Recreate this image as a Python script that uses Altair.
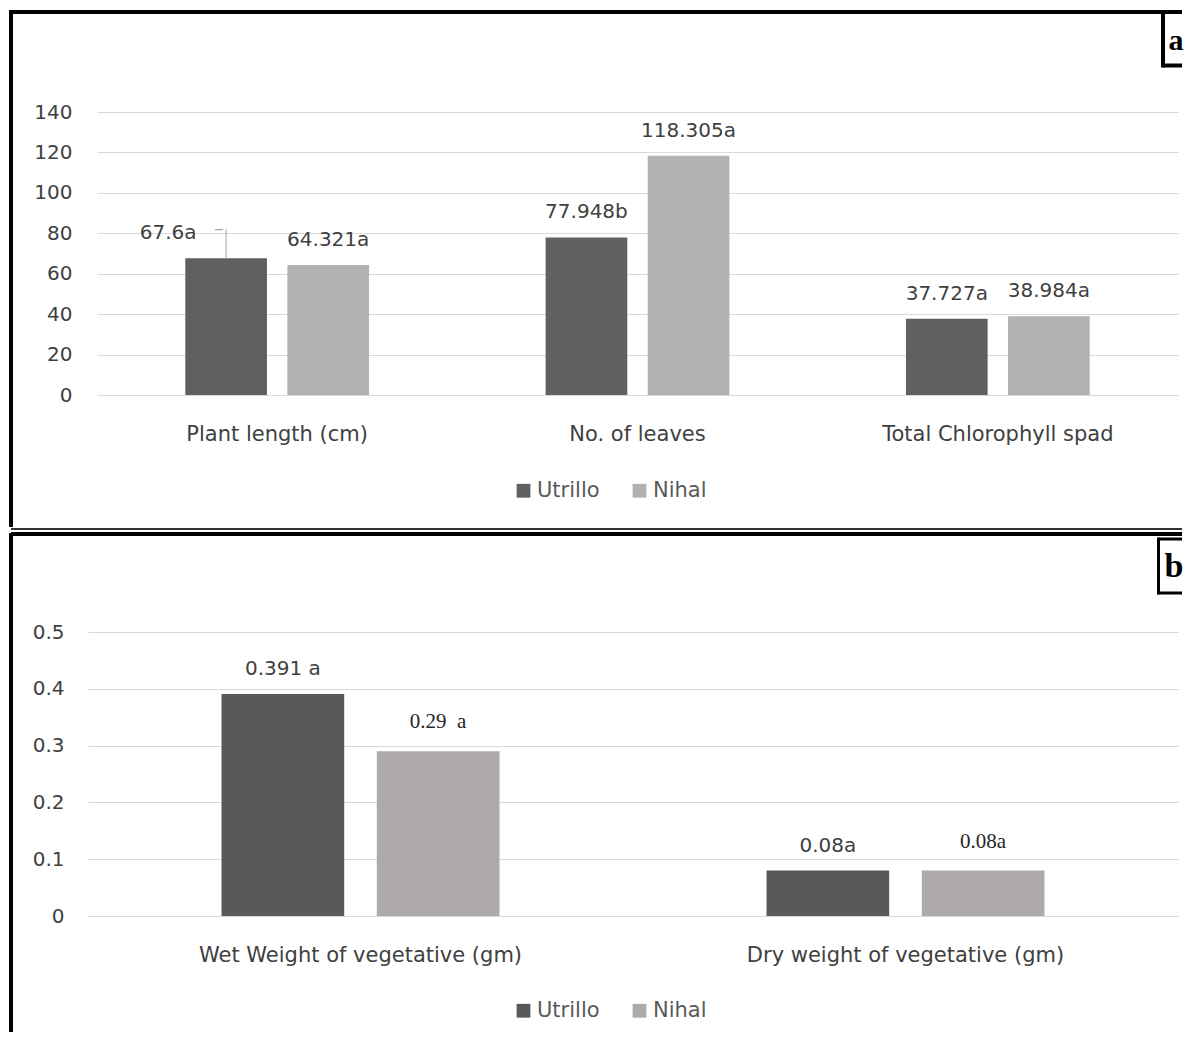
import altair as alt
import pandas as pd

FONT = "DejaVu Sans"
SERIF = "Liberation Serif"

series = ["Utrillo", "Nihal"]

top_categories = ["Plant length (cm)", "No. of leaves", "Total Chlorophyll spad"]
top_utrillo = [67.6, 77.948, 37.727]
top_nihal = [64.321, 118.305, 38.984]
top_utrillo_labels = ["67.6a", "77.948b", "37.727a"]
top_nihal_labels = ["64.321a", "118.305a", "38.984a"]
top_ticks = [0, 20, 40, 60, 80, 100, 120, 140]

bottom_categories = ["Wet Weight of vegetative (gm)", "Dry weight of vegetative (gm)"]
bottom_utrillo = [0.391, 0.08]
bottom_nihal = [0.29, 0.08]
bottom_utrillo_labels = ["0.391 a", "0.08a"]
bottom_nihal_labels = ["0.29 \u00a0a", "0.08a"]
bottom_ticks = [0, 0.1, 0.2, 0.3, 0.4, 0.5]

top_colors = ["#606060", "#b2b2b2"]
bottom_colors = ["#595959", "#aeaaaa"]


def make_df(cats, u, n, ul, nl):
    rows = []
    for c, v, l in zip(cats, u, ul):
        rows.append({"category": c, "series": "Utrillo", "value": v, "label": l})
    for c, v, l in zip(cats, n, nl):
        rows.append({"category": c, "series": "Nihal", "value": v, "label": l})
    return pd.DataFrame(rows)


top_df = make_df(top_categories, top_utrillo, top_nihal, top_utrillo_labels, top_nihal_labels)
bottom_df = make_df(bottom_categories, bottom_utrillo, bottom_nihal, bottom_utrillo_labels, bottom_nihal_labels)

one = pd.DataFrame({"k": [0]})
RIGHT = 1094


def hline(y, x1, x2, w, color="black"):
    return alt.Chart(one).mark_rule(color=color, strokeWidth=w).encode(
        x=alt.value(x1), x2=alt.value(x2), y=alt.value(y))


def vline(x, y1, y2, w, color="black"):
    return alt.Chart(one).mark_rule(color=color, strokeWidth=w).encode(
        x=alt.value(x), y=alt.value(y1), y2=alt.value(y2))


def letter(t, x, y, size):
    return alt.Chart(one).mark_text(text=t, font=SERIF, fontWeight="bold", fontSize=size,
                                    align="center", baseline="middle", color="black").encode(
        x=alt.value(x), y=alt.value(y))


def legend():
    return alt.Legend(orient="none", legendX=425, legendY=368, direction="horizontal", title=None,
                      symbolType="square", symbolSize=190, symbolStrokeWidth=0,
                      labelFont=FONT, labelFontSize=21, labelColor="#595959",
                      labelOffset=3, columnPadding=29, padding=0)


# ---------------- top panel ----------------
x_top = alt.X("category:N", sort=top_categories, title=None,
              scale=alt.Scale(range=[9, 1090], paddingInner=0.49, paddingOuter=0.245),
              axis=alt.Axis(labelAngle=0, labelPadding=28, labelFont=FONT, labelFontSize=21,
                            labelColor="#404040", labelLimit=0, domain=False, ticks=False,
                            grid=False))
xo_top = alt.XOffset("series:N", sort=series, scale=alt.Scale(paddingInner=0.2))
top_y_scale = alt.Scale(domain=[0, 140], nice=False)
top_y_axis = alt.Axis(values=top_ticks, labelPadding=16, grid=True, gridColor="#d9d9d9",
                      gridWidth=1, domain=False, ticks=False, labelFont=FONT,
                      labelFontSize=20, labelColor="#404040")
y_top = alt.Y("value:Q", title=None, scale=top_y_scale, axis=top_y_axis)

top_base = alt.Chart(top_df)
top_bars = top_base.mark_bar().encode(
    x=x_top, xOffset=xo_top, y=y_top,
    color=alt.Color("series:N", sort=series,
                    scale=alt.Scale(domain=series, range=top_colors), legend=legend()))
top_labels = top_base.mark_text(font=FONT, fontSize=20, color="#404040", baseline="middle",
                                dy=-25).encode(
    x=x_top, xOffset=xo_top, y=y_top, text="label:N").transform_filter(alt.datum.label != "67.6a")
top_label_shift = top_base.mark_text(font=FONT, fontSize=20, color="#404040", baseline="middle",
                                     dy=-25, dx=-58).encode(
    x=x_top, xOffset=xo_top, y=y_top, text="label:N").transform_filter(alt.datum.label == "67.6a")
top_leader = top_base.mark_rule(color="#a6a6a6", strokeWidth=1).encode(
    x=x_top, xOffset=xo_top, y=y_top, y2=alt.Y2("lead:Q")).transform_filter(
    alt.datum.label == "67.6a").transform_calculate(lead="datum.value + 14.5")
top_leader_dash = top_base.mark_text(text="\u2013", font=FONT, fontSize=20, color="#a6a6a6",
                                     baseline="middle", dx=-7).encode(
    x=x_top, xOffset=xo_top,
    y=alt.Y("lead:Q", title=None, scale=top_y_scale, axis=top_y_axis)).transform_filter(
    alt.datum.label == "67.6a").transform_calculate(lead="datum.value + 14.5")

top_chart = alt.layer(
    top_bars, top_labels, top_label_shift, top_leader, top_leader_dash,
    vline(-77, -102, 415, 4),
    hline(-100, -77, RIGHT, 4),
    hline(417, -77, RIGHT, 2, "#333333"),
    vline(1075, -100, -44.5, 4),
    hline(-46.5, 1075, RIGHT, 4),
    letter("a", 1088, -71, 30),
).properties(width=1090, height=283)

# ---------------- bottom panel ----------------
x_bot = alt.X("category:N", sort=bottom_categories, title=None,
              scale=alt.Scale(range=[0, 1090], paddingInner=0.49, paddingOuter=0.245),
              axis=alt.Axis(labelAngle=0, labelPadding=28, labelFont=FONT, labelFontSize=21,
                            labelColor="#404040", labelLimit=0, domain=False, ticks=False,
                            grid=False))
xo_bot = alt.XOffset("series:N", sort=series, scale=alt.Scale(paddingInner=0.21))
y_bot = alt.Y("value:Q", title=None, scale=alt.Scale(domain=[0, 0.5], nice=False),
              axis=alt.Axis(values=bottom_ticks, format="~g", labelPadding=24, grid=True,
                            gridColor="#d9d9d9", gridWidth=1, domain=False, ticks=False,
                            labelFont=FONT, labelFontSize=20, labelColor="#404040"))

bot_base = alt.Chart(bottom_df)
bot_bars = bot_base.mark_bar().encode(
    x=x_bot, xOffset=xo_bot, y=y_bot,
    color=alt.Color("series:N", sort=series,
                    scale=alt.Scale(domain=series, range=bottom_colors), legend=legend()))
bot_labels_sans = bot_base.mark_text(font=FONT, fontSize=20, color="#404040", baseline="middle",
                                     dy=-25).encode(
    x=x_bot, xOffset=xo_bot, y=y_bot, text="label:N").transform_filter(alt.datum.series == "Utrillo")
bot_labels_serif = bot_base.mark_text(font=SERIF, fontSize=21, color="#262626", baseline="middle",
                                      dy=-29).encode(
    x=x_bot, xOffset=xo_bot, y=y_bot, text="label:N").transform_filter(alt.datum.series == "Nihal")

bottom_chart = alt.layer(
    bot_bars, bot_labels_sans, bot_labels_serif,
    hline(-98, -77, RIGHT, 4),
    vline(-77, -99, 400, 4),
    vline(1070.5, -94.5, -37.5, 3),
    hline(-93, 1070.5, RIGHT, 3),
    hline(-39, 1070.5, RIGHT, 3),
    letter("b", 1086, -65, 34),
).properties(width=1090, height=284)

chart = alt.vconcat(top_chart, bottom_chart, spacing=1).resolve_scale(
    color="independent", xOffset="independent"
).resolve_legend(color="independent").properties(
    padding={"left": 1, "top": 0, "right": 0, "bottom": 0},
    background="white",
).configure_view(stroke=None)

chart.save("out.html", embed_options={"renderer": "svg", "actions": False})
